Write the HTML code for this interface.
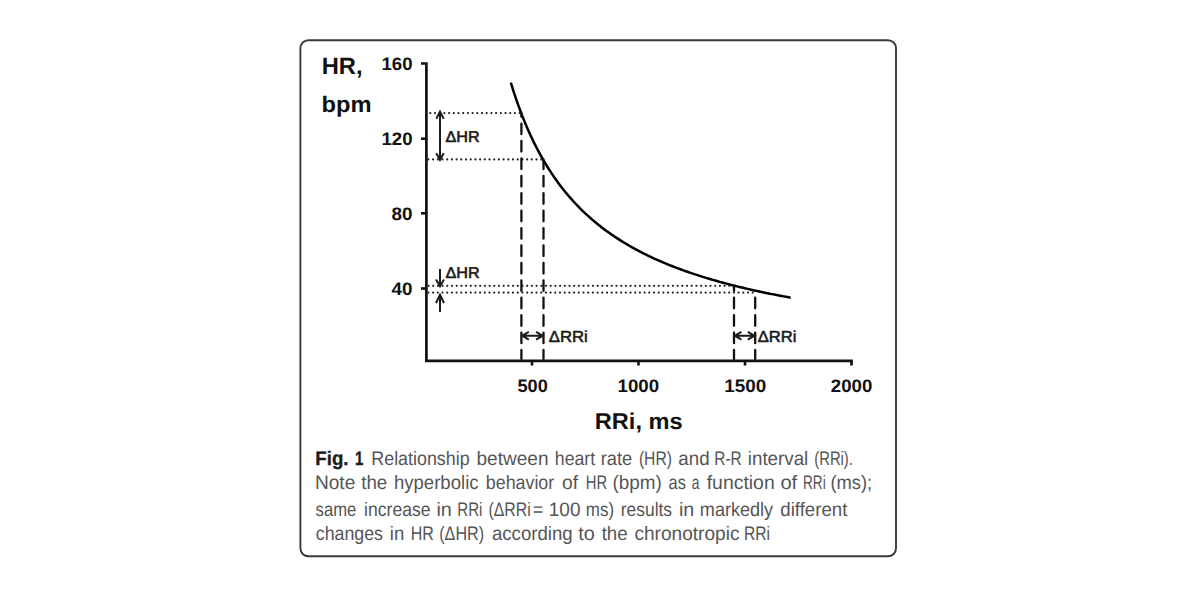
<!DOCTYPE html>
<html><head><meta charset="utf-8"><style>
html,body{margin:0;padding:0;background:#fff;width:1200px;height:600px;overflow:hidden}
svg{position:absolute;left:0;top:0;display:block}
text{font-family:"Liberation Sans",sans-serif;text-rendering:geometricPrecision}
</style></head><body>
<svg width="1200" height="600" viewBox="0 0 1200 600" font-family="Liberation Sans, sans-serif">
<rect x="300.4" y="40.2" width="595.6" height="516.1" rx="8" ry="8" fill="none" stroke="#3a3a3a" stroke-width="1.9"/>
<path d="M421,63.5 H426.4 V360.9 H851.5 V365.5" fill="none" stroke="#111" stroke-width="2.7" stroke-linejoin="miter"/>
<path d="M421,138.7 H426.4" stroke="#111" stroke-width="2.6"/>
<path d="M421,213.3 H426.4" stroke="#111" stroke-width="2.6"/>
<path d="M421,288.5 H426.4" stroke="#111" stroke-width="2.6"/>
<path d="M532.00,360.9 V365.5" stroke="#111" stroke-width="2.6"/>
<path d="M638.50,360.9 V365.5" stroke="#111" stroke-width="2.6"/>
<path d="M745.00,360.9 V365.5" stroke="#111" stroke-width="2.6"/>
<path d="M510.81,82.60 L513.14,90.07 L515.47,97.15 L517.80,103.87 L520.14,110.26 L522.47,116.35 L524.80,122.15 L527.13,127.68 L529.47,132.96 L531.80,138.02 L534.13,142.85 L536.46,147.48 L538.80,151.92 L541.13,156.19 L543.46,160.28 L545.79,164.21 L548.13,168.00 L550.46,171.64 L552.79,175.15 L555.12,178.54 L557.46,181.80 L559.79,184.95 L562.12,187.99 L564.45,190.94 L566.79,193.78 L569.12,196.53 L571.45,199.19 L573.78,201.77 L576.12,204.27 L578.45,206.70 L580.78,209.05 L583.11,211.33 L585.45,213.54 L587.78,215.70 L590.11,217.79 L592.44,219.82 L594.78,221.79 L597.11,223.72 L599.44,225.59 L601.78,227.41 L604.11,229.18 L606.44,230.91 L608.77,232.59 L611.11,234.23 L613.44,235.83 L615.77,237.40 L618.10,238.92 L620.44,240.41 L622.77,241.86 L625.10,243.28 L627.43,244.66 L629.77,246.01 L632.10,247.34 L634.43,248.63 L636.76,249.90 L639.10,251.13 L641.43,252.34 L643.76,253.53 L646.09,254.69 L648.43,255.82 L650.76,256.94 L653.09,258.02 L655.42,259.09 L657.76,260.14 L660.09,261.16 L662.42,262.17 L664.75,263.15 L667.09,264.12 L669.42,265.06 L671.75,265.99 L674.08,266.91 L676.42,267.80 L678.75,268.68 L681.08,269.54 L683.41,270.39 L685.75,271.22 L688.08,272.04 L690.41,272.84 L692.74,273.63 L695.08,274.41 L697.41,275.17 L699.74,275.92 L702.07,276.65 L704.41,277.38 L706.74,278.09 L709.07,278.79 L711.40,279.48 L713.74,280.15 L716.07,280.82 L718.40,281.48 L720.73,282.12 L723.07,282.76 L725.40,283.38 L727.73,284.00 L730.06,284.61 L732.40,285.20 L734.73,285.79 L737.06,286.37 L739.39,286.94 L741.73,287.50 L744.06,288.06 L746.39,288.60 L748.72,289.14 L751.06,289.67 L753.39,290.20 L755.72,290.71 L758.05,291.22 L760.39,291.72 L762.72,292.22 L765.05,292.70 L767.38,293.19 L769.72,293.66 L772.05,294.13 L774.38,294.59 L776.71,295.05 L779.05,295.49 L781.38,295.94 L783.71,296.38 L786.04,296.81 L788.38,297.24 L790.71,297.66" fill="none" stroke="#000" stroke-width="2.5"/>
<path d="M430.3,113.1 H521.4" stroke="#222" stroke-width="2.2" stroke-linecap="round" stroke-dasharray="0.001 4.699"/>
<path d="M428.4,159.4 H543.5" stroke="#222" stroke-width="2.2" stroke-linecap="round" stroke-dasharray="0.001 4.699"/>
<path d="M428.5,285.8 H734.0" stroke="#222" stroke-width="2.2" stroke-linecap="round" stroke-dasharray="0.001 4.699"/>
<path d="M428.4,292.6 H755.2" stroke="#222" stroke-width="2.2" stroke-linecap="round" stroke-dasharray="0.001 4.699"/>
<path d="M521.4,113.1 V359" stroke="#111" stroke-width="2.3" stroke-linecap="round" stroke-dasharray="10.60 6.82" stroke-dashoffset="6.97"/>
<path d="M543.5,159.4 V359" stroke="#111" stroke-width="2.3" stroke-linecap="round" stroke-dasharray="10.60 6.82" stroke-dashoffset="1.01"/>
<path d="M734.0,285.8 V359" stroke="#111" stroke-width="2.3" stroke-linecap="round" stroke-dasharray="10.60 6.82" stroke-dashoffset="5.47"/>
<path d="M755.2,292.6 V359" stroke="#111" stroke-width="2.3" stroke-linecap="round" stroke-dasharray="10.60 6.82" stroke-dashoffset="12.27"/>
<path d="M440,111 V160 M436.3,118.8 L440,111.6 L443.7,118.8 M436.3,153.3 L440,160 L443.7,153.3" fill="none" stroke="#1a1a1a" stroke-width="2"/>
<path d="M440,269 V286 M436,279.5 L440,286.3 L444,279.5" fill="none" stroke="#1a1a1a" stroke-width="2"/>
<path d="M440,312 V295 M436,303 L440,294.7 L444,303" fill="none" stroke="#1a1a1a" stroke-width="2"/>
<path d="M522.4,335.7 H542.5 M528.8,331.8 L522.1999999999999,335.7 L528.8,339.6 M536.1,331.8 L542.7,335.7 L536.1,339.6" fill="none" stroke="#1a1a1a" stroke-width="2"/>
<path d="M735.0,335.7 H754.2 M741.4,331.8 L734.8,335.7 L741.4,339.6 M747.8000000000001,331.8 L754.4000000000001,335.7 L747.8000000000001,339.6" fill="none" stroke="#1a1a1a" stroke-width="2"/>
<text x="381.53" y="69.5" font-size="18" font-weight="bold" fill="#111" textLength="31.03" lengthAdjust="spacingAndGlyphs">160</text>
<text x="381.53" y="145.0" font-size="18" font-weight="bold" fill="#111" textLength="31.03" lengthAdjust="spacingAndGlyphs">120</text>
<text x="391.60" y="219.7" font-size="18" font-weight="bold" fill="#111" textLength="20.97" lengthAdjust="spacingAndGlyphs">80</text>
<text x="391.61" y="294.8" font-size="18" font-weight="bold" fill="#111" textLength="20.96" lengthAdjust="spacingAndGlyphs">40</text>
<text x="517.44" y="391.8" font-size="18" font-weight="bold" fill="#111" textLength="30.30" lengthAdjust="spacingAndGlyphs">500</text>
<text x="617.52" y="391.8" font-size="18" font-weight="bold" fill="#111" textLength="41.54" lengthAdjust="spacingAndGlyphs">1000</text>
<text x="724.21" y="391.6" font-size="18" font-weight="bold" fill="#111" textLength="41.96" lengthAdjust="spacingAndGlyphs">1500</text>
<text x="830.85" y="391.8" font-size="18" font-weight="bold" fill="#111" textLength="41.41" lengthAdjust="spacingAndGlyphs">2000</text>
<text x="321.71" y="73.9" font-size="23.5" font-weight="bold" fill="#111" textLength="40.88" lengthAdjust="spacingAndGlyphs">HR,</text>
<text x="321.64" y="111.7" font-size="22.6" font-weight="bold" fill="#111" textLength="50.03" lengthAdjust="spacingAndGlyphs">bpm</text>
<text x="594.72" y="429.2" font-size="22.8" font-weight="bold" fill="#111" textLength="87.95" lengthAdjust="spacingAndGlyphs">RRi, ms</text>
<text x="445.52" y="142.0" font-size="15.5" fill="#1a1a1a" textLength="34.23" lengthAdjust="spacingAndGlyphs" stroke="#1a1a1a" stroke-width="0.6">ΔHR</text>
<text x="445.52" y="277.7" font-size="15.5" fill="#1a1a1a" textLength="34.23" lengthAdjust="spacingAndGlyphs" stroke="#1a1a1a" stroke-width="0.6">ΔHR</text>
<text x="548.80" y="342.3" font-size="16" fill="#1a1a1a" textLength="39.02" lengthAdjust="spacingAndGlyphs" stroke="#1a1a1a" stroke-width="0.55">ΔRRi</text>
<text x="757.81" y="342.3" font-size="16" fill="#1a1a1a" textLength="38.71" lengthAdjust="spacingAndGlyphs" stroke="#1a1a1a" stroke-width="0.55">ΔRRi</text>
<text x="315.30" y="464.7" font-size="19.5" font-weight="bold" fill="#1c1c1c" textLength="33.24" lengthAdjust="spacingAndGlyphs" stroke="#1c1c1c" stroke-width="0.35">Fig.</text>
<text x="354.90" y="464.7" font-size="19.5" font-weight="bold" fill="#1c1c1c" textLength="8.37" lengthAdjust="spacingAndGlyphs" stroke="#1c1c1c" stroke-width="0.35">1</text>
<text x="371.28" y="464.7" font-size="19.5" fill="#555555" textLength="98.42" lengthAdjust="spacingAndGlyphs">Relationship</text>
<text x="476.52" y="464.7" font-size="19.5" fill="#555555" textLength="71.96" lengthAdjust="spacingAndGlyphs">between</text>
<text x="554.82" y="464.7" font-size="19.5" fill="#555555" textLength="40.36" lengthAdjust="spacingAndGlyphs">heart</text>
<text x="600.73" y="464.7" font-size="19.5" fill="#555555" textLength="31.53" lengthAdjust="spacingAndGlyphs">rate</text>
<text x="638.88" y="464.7" font-size="19.5" fill="#555555" textLength="33.04" lengthAdjust="spacingAndGlyphs">(HR)</text>
<text x="678.36" y="464.7" font-size="19.5" fill="#555555" textLength="31.20" lengthAdjust="spacingAndGlyphs">and</text>
<text x="714.29" y="464.7" font-size="19.5" fill="#555555" textLength="27.38" lengthAdjust="spacingAndGlyphs">R-R</text>
<text x="747.79" y="464.7" font-size="19.5" fill="#555555" textLength="60.51" lengthAdjust="spacingAndGlyphs">interval</text>
<text x="814.33" y="464.7" font-size="19.5" fill="#555555" textLength="38.57" lengthAdjust="spacingAndGlyphs">(RRi).</text>
<text x="314.98" y="489.4" font-size="19.5" fill="#555555" textLength="40.31" lengthAdjust="spacingAndGlyphs">Note</text>
<text x="361.27" y="489.4" font-size="19.5" fill="#555555" textLength="26.01" lengthAdjust="spacingAndGlyphs">the</text>
<text x="393.96" y="489.4" font-size="19.5" fill="#555555" textLength="84.58" lengthAdjust="spacingAndGlyphs">hyperbolic</text>
<text x="485.80" y="489.4" font-size="19.5" fill="#555555" textLength="68.45" lengthAdjust="spacingAndGlyphs">behavior</text>
<text x="561.94" y="489.4" font-size="19.5" fill="#555555" textLength="16.08" lengthAdjust="spacingAndGlyphs">of</text>
<text x="585.73" y="489.4" font-size="19.5" fill="#555555" textLength="21.40" lengthAdjust="spacingAndGlyphs">HR</text>
<text x="612.38" y="489.4" font-size="19.5" fill="#555555" textLength="49.34" lengthAdjust="spacingAndGlyphs">(bpm)</text>
<text x="668.55" y="489.4" font-size="19.5" fill="#555555" textLength="17.29" lengthAdjust="spacingAndGlyphs">as</text>
<text x="691.66" y="489.4" font-size="19.5" fill="#555555" textLength="7.69" lengthAdjust="spacingAndGlyphs">a</text>
<text x="706.73" y="489.4" font-size="19.5" fill="#555555" textLength="67.99" lengthAdjust="spacingAndGlyphs">function</text>
<text x="780.40" y="489.4" font-size="19.5" fill="#555555" textLength="16.82" lengthAdjust="spacingAndGlyphs">of</text>
<text x="803.04" y="489.4" font-size="19.5" fill="#555555" textLength="22.63" lengthAdjust="spacingAndGlyphs">RRi</text>
<text x="830.51" y="489.4" font-size="19.5" fill="#555555" textLength="41.68" lengthAdjust="spacingAndGlyphs">(ms);</text>
<text x="315.59" y="515.6" font-size="19.5" fill="#555555" textLength="40.70" lengthAdjust="spacingAndGlyphs">same</text>
<text x="364.07" y="515.6" font-size="19.5" fill="#555555" textLength="66.46" lengthAdjust="spacingAndGlyphs">increase</text>
<text x="436.43" y="515.6" font-size="19.5" fill="#555555" textLength="15.41" lengthAdjust="spacingAndGlyphs">in</text>
<text x="457.31" y="515.6" font-size="19.5" fill="#555555" textLength="25.16" lengthAdjust="spacingAndGlyphs">RRi</text>
<text x="488.47" y="515.6" font-size="19.5" fill="#555555" textLength="42.35" lengthAdjust="spacingAndGlyphs">(ΔRRi</text>
<text x="532.68" y="515.6" font-size="19.5" fill="#555555" textLength="10.46" lengthAdjust="spacingAndGlyphs">=</text>
<text x="548.80" y="515.6" font-size="19.5" fill="#555555" textLength="31.69" lengthAdjust="spacingAndGlyphs">100</text>
<text x="585.82" y="515.6" font-size="19.5" fill="#555555" textLength="28.28" lengthAdjust="spacingAndGlyphs">ms)</text>
<text x="620.79" y="515.6" font-size="19.5" fill="#555555" textLength="51.29" lengthAdjust="spacingAndGlyphs">results</text>
<text x="678.93" y="515.6" font-size="19.5" fill="#555555" textLength="15.41" lengthAdjust="spacingAndGlyphs">in</text>
<text x="699.85" y="515.6" font-size="19.5" fill="#555555" textLength="73.23" lengthAdjust="spacingAndGlyphs">markedly</text>
<text x="780.27" y="515.6" font-size="19.5" fill="#555555" textLength="67.12" lengthAdjust="spacingAndGlyphs">different</text>
<text x="315.80" y="540.2" font-size="19.5" fill="#555555" textLength="67.10" lengthAdjust="spacingAndGlyphs">changes</text>
<text x="389.81" y="540.2" font-size="19.5" fill="#555555" textLength="14.45" lengthAdjust="spacingAndGlyphs">in</text>
<text x="410.63" y="540.2" font-size="19.5" fill="#555555" textLength="23.16" lengthAdjust="spacingAndGlyphs">HR</text>
<text x="439.25" y="540.2" font-size="19.5" fill="#555555" textLength="44.80" lengthAdjust="spacingAndGlyphs">(ΔHR)</text>
<text x="491.96" y="540.2" font-size="19.5" fill="#555555" textLength="80.69" lengthAdjust="spacingAndGlyphs">according</text>
<text x="578.25" y="540.2" font-size="19.5" fill="#555555" textLength="16.53" lengthAdjust="spacingAndGlyphs">to</text>
<text x="601.67" y="540.2" font-size="19.5" fill="#555555" textLength="26.01" lengthAdjust="spacingAndGlyphs">the</text>
<text x="634.44" y="540.2" font-size="19.5" fill="#555555" textLength="105.01" lengthAdjust="spacingAndGlyphs">chronotropic</text>
<text x="743.97" y="540.2" font-size="19.5" fill="#555555" textLength="26.03" lengthAdjust="spacingAndGlyphs">RRi</text>
</svg>
</body></html>
